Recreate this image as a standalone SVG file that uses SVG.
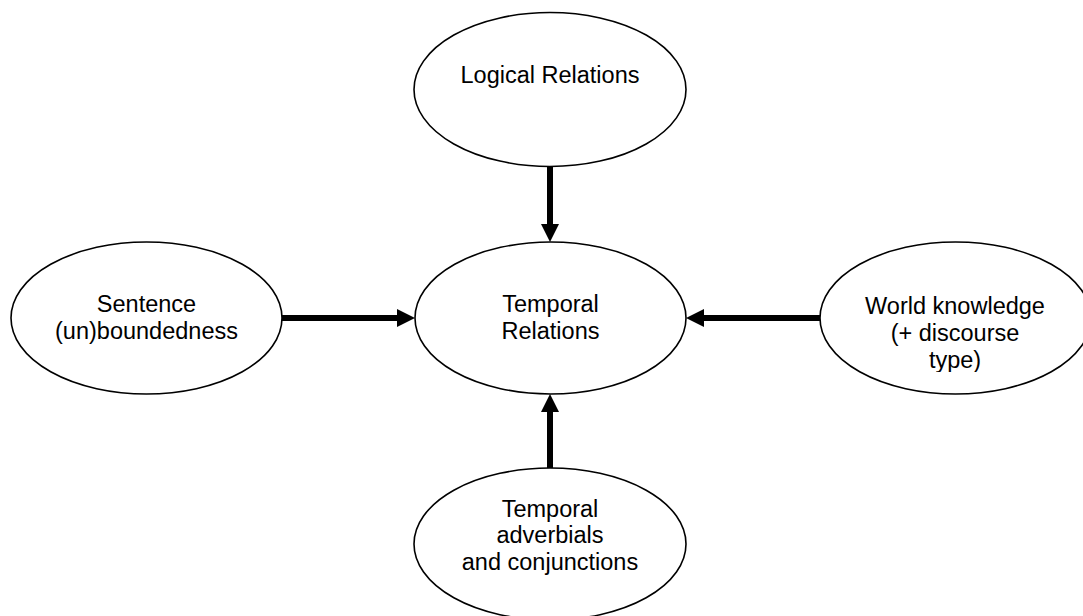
<svg xmlns="http://www.w3.org/2000/svg" width="1083" height="616" viewBox="0 0 1083 616">
<style>
.node{fill:#fff;stroke:#000;stroke-width:1.6}
.lbl{font-family:"Liberation Sans",Arial,sans-serif;font-size:23.5px;fill:#000;text-anchor:middle}
.conn{stroke:#000;stroke-width:6;fill:none}
</style>
<defs>
<marker id="ah" viewBox="0 0 18 18" refX="0.5" refY="9" markerWidth="18" markerHeight="18" markerUnits="userSpaceOnUse" orient="auto">
<path d="M0,0 L18,9 L0,18 z" fill="#000"/>
</marker>
<clipPath id="wkclip"><rect x="820" y="240" width="263" height="132"/></clipPath>
</defs>
<rect width="1083" height="616" fill="#fff"/>
<g id="connectors">
<line class="conn" x1="550" y1="166" x2="550" y2="224.5" marker-end="url(#ah)"/>
<line class="conn" x1="282" y1="318" x2="397.5" y2="318" marker-end="url(#ah)"/>
<line class="conn" x1="820" y1="318" x2="703.5" y2="318" marker-end="url(#ah)"/>
<line class="conn" x1="550" y1="468" x2="550" y2="411.5" marker-end="url(#ah)"/>
</g>
<g id="logical">
<ellipse class="node" cx="550" cy="89.5" rx="136" ry="77"/>
<text class="lbl" x="550" y="83">Logical Relations</text>
</g>
<g id="temporal">
<ellipse class="node" cx="550.5" cy="318" rx="135.5" ry="76"/>
<text class="lbl" x="550.5" y="311.5">Temporal</text>
<text class="lbl" x="550.5" y="338.5">Relations</text>
</g>
<g id="sentence">
<ellipse class="node" cx="146.5" cy="318" rx="135.5" ry="76"/>
<text class="lbl" x="146.5" y="311.5">Sentence</text>
<text class="lbl" x="146.5" y="338.5">(un)boundedness</text>
</g>
<g id="world">
<ellipse class="node" cx="955.5" cy="318" rx="135.5" ry="76"/>
<g clip-path="url(#wkclip)">
<text class="lbl" x="955" y="314">World knowledge</text>
<text class="lbl" x="955" y="341">(+ discourse</text>
<text class="lbl" x="955" y="368">type)</text>
</g>
</g>
<g id="adverbials">
<ellipse class="node" cx="550" cy="544" rx="136" ry="76"/>
<text class="lbl" x="550" y="516.5">Temporal</text>
<text class="lbl" x="550" y="543">adverbials</text>
<text class="lbl" x="550" y="569.5">and conjunctions</text>
</g>
</svg>
